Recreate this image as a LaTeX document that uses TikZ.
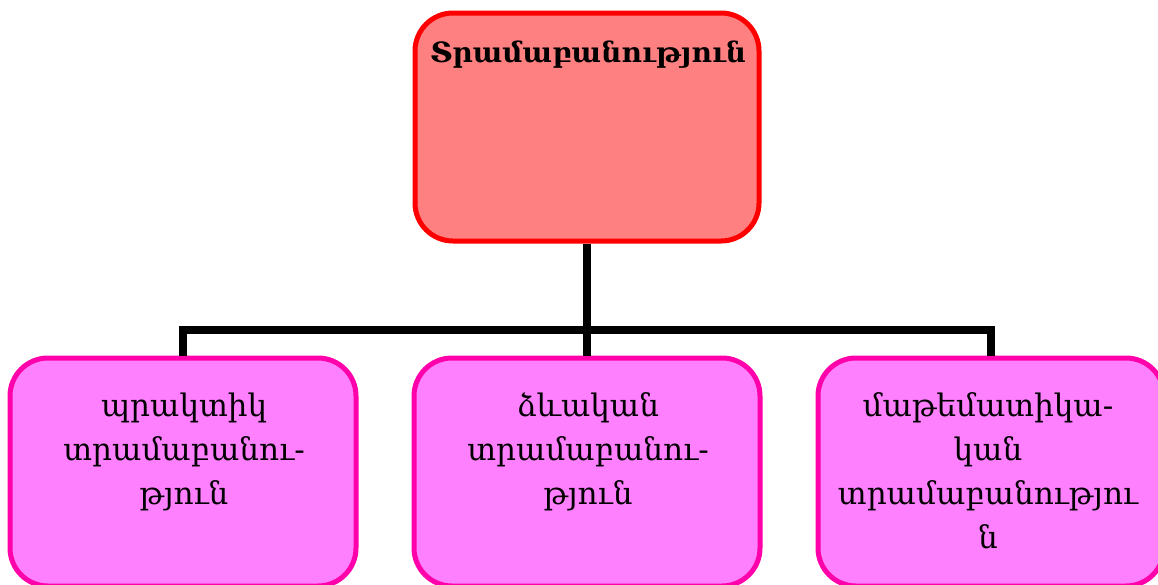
\documentclass[tikz,border=0pt]{standalone}
\usepackage{fontspec}
\setmainfont{DejaVu Serif}
\definecolor{topfill}{HTML}{FF8080}
\definecolor{topline}{HTML}{FF0000}
\definecolor{subfill}{HTML}{FF80FF}
\definecolor{subline}{HTML}{FF00AA}
\tikzset{
  topbox/.style={draw=topline, fill=topfill, line width=5pt, rounded corners=38pt, minimum width=344pt, minimum height=228pt, inner sep=0pt},
  subbox/.style={draw=subline, fill=subfill, line width=5pt, rounded corners=38pt, minimum width=346pt, minimum height=228pt, inner sep=0pt},
  toptext/.style={font=\bfseries\fontsize{28}{32}\selectfont, inner sep=0pt},
  subtext/.style={font=\fontsize{31}{44}\selectfont, align=center, inner sep=0pt},
  conn/.style={line width=8pt, draw=black}
}
\begin{document}
\begin{tikzpicture}[x=1pt,y=-1pt]
\useasboundingbox (0,0) rectangle (1158,584);
\clip (0,0) rectangle (1158,584);
\node[topbox] (top) at (587,127) {};
\node[toptext] (toptxt) at (588,55) {Տրամաբանություն};
\node[subbox] (b1) at (183,472) {};
\node[subbox] (b2) at (587,472) {};
\node[subbox] (b3) at (991,472) {};
\coordinate (j) at (587,330);
\draw[conn] (top.south) -- (j);
\draw[conn] (b1.north) |- (j) -| (b3.north);
\draw[conn] (j) -- (b2.north);
\node[subtext] (t1) at (184,452) {պրակտիկ\\տրամաբանու-\\թյուն};
\node[subtext] (t2) at (588,452) {ձևական\\տրամաբանու-\\թյուն};
\node[subtext] (t3) at (988,471) {մաթեմատիկա-\\կան\\տրամաբանությու\\ն};
\end{tikzpicture}
\end{document}
